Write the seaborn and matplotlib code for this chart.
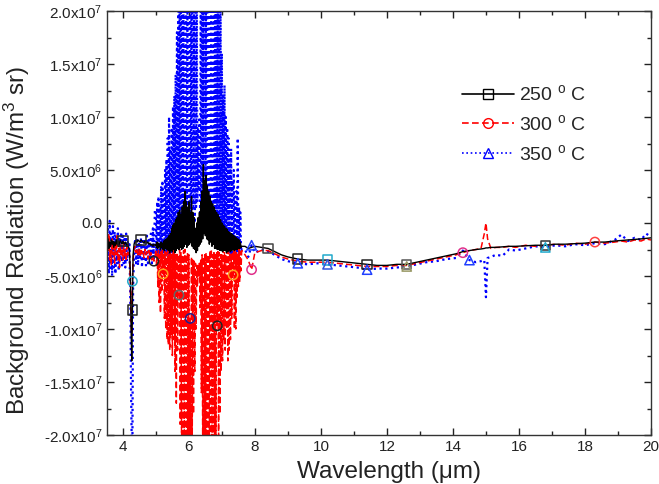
import numpy as np
import pandas as pd
import matplotlib
matplotlib.use("Agg")
import matplotlib.pyplot as plt
import seaborn as sns
from matplotlib.lines import Line2D
from matplotlib.ticker import MultipleLocator, FixedLocator

# ---------------- data (radiation values in units of 1e6 W/m^3 sr) ----------------
wl_lead = [3.550, 3.575, 3.600, 3.625, 3.650, 3.675, 3.700, 3.725, 3.750, 3.775,
           3.800, 3.825, 3.850, 3.875, 3.900, 3.925, 3.950, 3.975, 4.000, 4.025,
           4.050, 4.075, 4.100, 4.125, 4.150, 4.175, 4.200]
wl_dip = [4.23, 4.25, 4.27, 4.29, 4.31, 4.34]
wl_pre = [4.37, 4.40, 4.43, 4.46, 4.49, 4.52, 4.55, 4.58, 4.61, 4.64,
          4.67, 4.70, 4.73, 4.76, 4.79, 4.82, 4.85, 4.88, 4.91, 4.94, 4.97]
wl_osc = [5.00, 5.02, 5.04, 5.06, 5.08, 5.10, 5.12, 5.14, 5.16, 5.18,
          5.20, 5.22, 5.24, 5.26, 5.28, 5.30, 5.32, 5.34, 5.36, 5.38,
          5.40, 5.42, 5.44, 5.46, 5.48, 5.50, 5.52, 5.54, 5.56, 5.58,
          5.60, 5.62, 5.64, 5.66, 5.68, 5.70, 5.72, 5.74, 5.76, 5.78,
          5.80, 5.82, 5.84, 5.86, 5.88, 5.90, 5.92, 5.94, 5.96, 5.98,
          6.00, 6.02, 6.04, 6.06, 6.08, 6.10, 6.12, 6.14, 6.16, 6.18,
          6.20, 6.22, 6.24, 6.26, 6.28, 6.30, 6.32, 6.34, 6.36, 6.38,
          6.40, 6.42, 6.44, 6.46, 6.48, 6.50, 6.52, 6.54, 6.56, 6.58,
          6.60, 6.62, 6.64, 6.66, 6.68, 6.70, 6.72, 6.74, 6.76, 6.78,
          6.80, 6.82, 6.84, 6.86, 6.88, 6.90, 6.92, 6.94, 6.96, 6.98,
          7.00, 7.02, 7.04, 7.06, 7.08, 7.10, 7.12, 7.14, 7.16, 7.18,
          7.20, 7.22, 7.24, 7.26, 7.28, 7.30, 7.32, 7.34, 7.36, 7.38,
          7.40, 7.42, 7.44, 7.46, 7.48, 7.50, 7.52, 7.54, 7.56, 7.58,
          7.60]
wl_tail = [7.70, 7.80, 7.90, 8.00, 8.20, 8.40, 8.60, 8.80, 9.00, 9.30,
           9.60, 9.90, 10.20, 10.50, 10.80, 11.10, 11.40, 11.70, 12.00, 12.30,
           12.60, 12.90, 13.20, 13.50, 13.80, 14.10, 14.30, 14.50, 14.70, 14.85,
           14.95, 15.00, 15.05, 15.15, 15.30, 15.50, 15.70, 15.90, 16.20, 16.50,
           16.80, 17.10, 17.40, 17.70, 18.00, 18.30, 18.60, 18.90, 19.10, 19.30,
           19.50, 19.70, 19.85, 20.00]

# 250 C
r250_lead = [-1.5, -2.4, -1.8, -2.2, -1.6, -2.0, -1.7, -2.3, -1.8, -2.1,
             -1.6, -2.0, -1.7, -2.2, -1.8, -1.6, -1.9, -2.0, -1.7, -1.9,
             -2.0, -1.8, -1.9, -2.2, -2.0, -2.3, -2.5]
r250_dip = [-5.0, -10.0, -13.0, -8.2, -3.0, -2.0]
r250_pre = [-1.8, -1.7, -1.8, -1.6, -1.7, -1.8, -1.6, -1.7, -1.8, -1.9,
            -1.7, -1.8, -1.9, -1.8, -2.0, -1.9, -2.1, -2.0, -2.2, -2.0, -2.1]
r250_osc = [-2.0, -2.3, -1.8, -2.4, -1.9, -2.2, -2.0, -2.5, -1.8, -2.3,
            -1.9, -2.5, -1.7, -2.6, -1.6, -2.4, -1.5, -2.5, -1.4, -2.6,
            -1.2, -2.8, -1.0, -2.6, -0.5, -2.7, -0.2, -2.5, 0.0, -2.8,
            0.3, -2.6, 0.5, -2.4, 1.0, -2.5, 1.2, -2.3, 0.8, -2.5,
            1.5, -2.4, 2.0, -2.2, 3.0, -2.0, 2.0, -2.3, 1.5, -2.1,
            2.0, -2.0, 1.0, -1.8, 2.5, -2.2, 1.0, -2.4, 0.5, -2.5,
            -0.5, -2.8, 0.0, -2.6, 0.5, -2.2, 1.0, -2.0, 2.0, -1.8,
            3.0, -1.5, 5.5, -1.0, 4.0, -1.2, 4.5, -1.5, 3.5, -1.6,
            3.0, -2.0, 2.5, -1.8, 2.0, -2.2, 1.8, -2.0, 1.5, -2.4,
            1.2, -2.4, 1.0, -2.5, 0.8, -2.5, 0.5, -2.6, 0.3, -2.6,
            0.0, -2.7, -0.2, -2.6, -0.3, -2.6, -0.5, -2.8, -0.6, -2.7,
            -0.8, -2.6, -0.9, -2.7, -1.0, -2.6, -1.1, -2.5, -1.2, -2.6,
            -1.3, -2.5, -1.4, -2.5, -1.5, -2.4, -1.6, -2.4, -1.8, -2.3,
            -2.2]
r250_tail = [-2.2, -2.4, -2.3, -2.2, -2.3, -2.4, -2.7, -3.0, -3.2, -3.4,
             -3.5, -3.5, -3.5, -3.6, -3.7, -3.8, -3.9, -4.0, -4.0, -3.9,
             -3.9, -3.7, -3.5, -3.3, -3.1, -2.9, -2.7, -2.6, -2.5, -2.45,
             -2.4, -2.35, -2.35, -2.3, -2.3, -2.25, -2.2, -2.2, -2.15, -2.1,
             -2.1, -2.0, -2.0, -1.95, -1.9, -1.8, -1.8, -1.7, -1.65, -1.6,
             -1.55, -1.5, -1.45, -1.4]

# 300 C
r300_lead = [-2.5, -1.0, -3.5, -2.0, -4.0, -1.5, -3.0, -2.2, -3.8, -2.0,
             -3.0, -1.2, -3.5, -2.4, -4.2, -2.0, -3.0, -2.4, -3.5, -1.8,
             -3.2, -2.5, -3.6, -2.2, -3.0, -2.6, -3.0]
r300_dip = [-6.0, -9.5, -10.5, -5.5, -3.5, -2.5]
r300_pre = [-2.2, -2.8, -2.4, -3.0, -2.5, -3.2, -2.4, -2.9, -2.6, -3.3,
            -2.5, -3.0, -2.7, -3.4, -2.6, -3.2, -2.8, -3.5, -3.0, -3.6, -3.4]
r300_osc = [-2.5, -4.0, -2.8, -6.0, -2.6, -7.5, -3.0, -8.5, -2.7, -6.5,
            -2.5, -4.8, -3.0, -9.0, -2.7, -10.0, -2.8, -11.0, -2.6, -11.5,
            -3.0, -12.0, -2.8, -10.5, -3.0, -12.5, -2.6, -11.0, -2.5, -14.0,
            -3.0, -17.0, -2.8, -12.0, -3.0, -6.8, -2.5, -19.0, -2.8, -21.0,
            -3.0, -22.0, -2.6, -22.0, -2.5, -22.0, -3.0, -22.0, -2.8, -22.0,
            -3.0, -22.0, -9.0, -22.0, -3.2, -22.0, -3.5, -18.0, -3.6, -14.0,
            -3.8, -10.0, -4.0, -6.0, -4.0, -5.0, -3.8, -8.0, -3.5, -16.0,
            -3.0, -22.0, -3.2, -22.0, -3.0, -22.0, -2.8, -22.0, -3.0, -22.0,
            -3.0, -21.0, -2.6, -22.0, -2.5, -22.0, -3.0, -22.0, -2.8, -21.0,
            -3.0, -20.0, -2.8, -9.7, -2.7, -21.0, -2.8, -18.0, -3.0, -14.0,
            -3.0, -13.0, -2.5, -11.0, -2.8, -12.0, -3.0, -10.0, -2.6, -13.0,
            -2.6, -12.0, -2.8, -11.0, -3.0, -9.0, -2.7, -4.9, -2.5, -10.0,
            -2.5, -10.0, -2.8, -7.0, -3.0, -6.0, -2.5, -5.5, -2.7, -4.5,
            -2.6]
r300_tail = [-3.0, -3.5, -4.4, -2.8, -2.6, -2.6, -2.9, -3.2, -3.4, -3.6,
             -3.7, -3.7, -3.7, -3.8, -3.9, -4.0, -4.1, -4.1, -4.1, -4.0,
             -4.0, -3.8, -3.6, -3.4, -3.2, -3.0, -2.8, -2.6, -2.5, -2.4,
             -1.0, 0.0, -1.5, -2.4, -2.3, -2.3, -2.2, -2.3, -2.1, -2.2,
             -2.1, -2.0, -2.1, -1.9, -2.0, -1.8, -1.9, -1.8, -1.7, -1.8,
             -1.6, -1.7, -1.5, -1.6]

# 350 C
r350_lead = [-0.5, -4.8, 0.2, -4.5, -1.0, -5.0, -0.3, -4.2, -0.8, -4.8,
             -1.2, -3.8, -0.5, -4.5, -1.5, -3.5, -0.9, -4.0, -1.2, -3.8,
             -1.5, -4.2, -1.0, -3.6, -1.8, -3.2, -2.0]
r350_dip = [-8.0, -16.0, -21.0, -21.0, -6.0, -3.0]
r350_pre = [-1.5, -3.8, -1.6, -4.0, -1.8, -3.5, -1.4, -4.2, -1.7, -3.6,
            -1.5, -4.0, -1.2, -3.8, -1.6, -3.5, -1.0, -3.8, -0.5, -3.5, 1.2]
r350_osc = [1.2, -3.0, 2.0, -3.2, 2.5, -3.5, 1.5, -3.0, 3.5, -3.3,
            4.0, -3.0, 3.0, -3.2, 5.0, -2.8, 6.0, -3.0, 8.0, -2.8,
            10.0, -3.0, 7.0, -2.6, 9.0, -2.8, 11.0, -2.5, 12.0, -2.4,
            14.0, -2.5, 18.0, -2.2, 20.0, -2.0, 22.0, -2.2, 24.0, -1.8,
            24.0, -1.5, 24.0, -0.5, 24.0, -1.0, 24.0, 0.5, 24.0, -0.5,
            24.0, -1.0, 24.0, 1.0, 24.0, 0.0, 24.0, 1.5, 24.0, 0.0,
            24.0, 1.5, 20.0, 2.0, 9.0, 3.0, 10.0, 1.0, 20.0, 0.5,
            24.0, 1.0, 24.0, 0.0, 24.0, 1.0, 24.0, 0.0, 24.0, -0.5,
            24.0, -0.5, 24.0, -1.0, 24.0, -0.5, 24.0, -1.0, 24.0, -1.5,
            24.0, -1.5, 24.0, -2.0, 24.0, -1.8, 24.0, -2.0, 22.0, -2.0,
            16.0, -2.5, 12.0, -2.2, 13.0, -2.5, 10.0, -2.6, 9.0, -2.8,
            8.0, -2.8, 6.0, -3.0, 7.0, -2.9, 4.0, -3.0, 5.0, -3.0,
            2.5, -3.0, 3.0, -3.1, 8.0, -2.8, 1.5, -3.0, 1.0, -2.7,
            -2.5]
r350_tail = [-2.5, -3.2, -2.1, -2.8, -2.5, -2.7, -3.0, -3.4, -3.6, -3.8,
             -3.9, -3.8, -3.9, -4.0, -4.1, -4.2, -4.4, -4.3, -4.3, -4.2,
             -4.1, -3.9, -3.7, -3.6, -3.4, -3.3, -2.6, -3.5, -3.7, -3.6,
             -3.5, -7.0, -3.3, -3.2, -3.0, -3.1, -2.5, -2.6, -2.4, -2.2,
             -2.3, -2.1, -2.2, -2.0, -2.1, -1.9, -2.0, -1.6, -1.1, -1.7,
             -1.4, -1.6, -1.0, -1.3]

series_labels = ["250 $^{o}$ C", "300 $^{o}$ C", "350 $^{o}$ C"]

# marker positions (wavelengths of sampled points) and their edge colours
mk250_x = [4.00, 4.29, 4.55, 8.40, 9.30, 10.20, 11.40, 12.60, 16.80]
mk300_x = [4.29, 4.94, 5.22, 5.70, 6.04, 6.86, 7.34, 7.90, 14.30, 18.30]
mk350_x = [7.90, 9.30, 10.20, 11.40, 12.60, 14.50, 16.80]
mk250_c = ["#222222", "#222222", "#222222", "#444444", "#222222", "#22aacc", "#222222", "#555555", "#333333"]
mk300_c = ["#22aacc", "#222222", "#ffa020", "#666666", "#202090", "#222222", "#ffa020", "#e0308a", "#e0308a", "#ff4040"]
mk350_c = ["#2040ff", "#2040ff", "#3355dd", "#2040ff", "#999966", "#2040ff", "#22aacc"]

xtick_vals = [4, 6, 8, 10, 12, 14, 16, 18, 20]
xtick_labels = ["4", "6", "8", "10", "12", "14", "16", "18", "20"]
ytick_vals = [-2e7, -1.5e7, -1e7, -5e6, 0, 5e6, 1e7, 1.5e7, 2e7]
ytick_labels = ["-2.0x10$^{7}$", "-1.5x10$^{7}$", "-1.0x10$^{7}$", "-5.0x10$^{6}$", "0.0",
                "5.0x10$^{6}$", "1.0x10$^{7}$", "1.5x10$^{7}$", "2.0x10$^{7}$"]

# ---------------- style ----------------
sns.set_theme(style="ticks")
plt.rcParams["font.family"] = ["Liberation Sans", "DejaVu Sans"]
plt.rcParams["mathtext.fontset"] = "custom"
plt.rcParams["mathtext.rm"] = "Liberation Sans"
plt.rcParams["mathtext.it"] = "Liberation Sans"
plt.rcParams["mathtext.default"] = "regular"

wl = np.array(wl_lead + wl_dip + wl_pre + wl_osc + wl_tail)
vals = {
    series_labels[0]: np.array(r250_lead + r250_dip + r250_pre + r250_osc + r250_tail) * 1e6,
    series_labels[1]: np.array(r300_lead + r300_dip + r300_pre + r300_osc + r300_tail) * 1e6,
    series_labels[2]: np.array(r350_lead + r350_dip + r350_pre + r350_osc + r350_tail) * 1e6,
}
df = pd.concat([pd.DataFrame({"wl": wl, "rad": v, "series": k}) for k, v in vals.items()],
               ignore_index=True)

colors = {series_labels[0]: "#000000", series_labels[1]: "#ff0000", series_labels[2]: "#0000ff"}
lstyles = {series_labels[0]: "-", series_labels[1]: (0, (4, 2)), series_labels[2]: (0, (1, 1.6))}
lwidths = {series_labels[0]: 1.0, series_labels[1]: 1.1, series_labels[2]: 1.6}
mshape = {series_labels[0]: "s", series_labels[1]: "o", series_labels[2]: "^"}

fig = plt.figure(figsize=(6.59, 4.84), dpi=100)
ax = fig.add_axes([107 / 659, 49 / 484, 544 / 659, 424 / 484])

for lab in [series_labels[2], series_labels[1], series_labels[0]]:
    sub = df[df["series"] == lab]
    sns.lineplot(data=sub, x="wl", y="rad", color=colors[lab], linestyle=lstyles[lab],
                 linewidth=lwidths[lab], sort=False, estimator=None, ax=ax, legend=False)

for lab, mx, mc in [(series_labels[0], mk250_x, mk250_c),
                    (series_labels[1], mk300_x, mk300_c),
                    (series_labels[2], mk350_x, mk350_c)]:
    idx = [int(np.argmin(np.abs(wl - x))) for x in mx]
    ax.scatter(wl[idx], vals[lab][idx], marker=mshape[lab], s=45, facecolors="none",
               edgecolors=mc, linewidths=1.1, zorder=5, clip_on=True)

ax.set_xlim(3.52, 20)
ax.set_ylim(-2e7, 2e7)
ax.xaxis.set_major_locator(FixedLocator(xtick_vals))
ax.set_xticklabels(xtick_labels)
ax.xaxis.set_minor_locator(MultipleLocator(1))
ax.yaxis.set_major_locator(FixedLocator(ytick_vals))
ax.set_yticklabels(ytick_labels)
ax.yaxis.set_minor_locator(MultipleLocator(2.5e6))
ax.tick_params(which="both", direction="in", top=True, right=True, colors="#222222",
               labelcolor="#222222", labelsize=11)
ax.tick_params(which="major", length=5, width=1)
ax.tick_params(which="minor", length=3, width=1)
for s in ax.spines.values():
    s.set_linewidth(1.0)
    s.set_color("#333333")

ax.set_xlabel("Wavelength (μm)", fontsize=17.5, color="#222222")
ax.xaxis.set_label_coords(0.518, -0.1014, transform=ax.transAxes)
ax.xaxis.label.set_va("baseline")
ax.set_ylabel("Background Radiation (W/m$^{3}$ sr)", fontsize=17.5, color="#222222")
ax.yaxis.set_label_coords(-0.138, 0.458, transform=ax.transAxes)

handles = [Line2D([], [], color=colors[l], linestyle=lstyles[l], linewidth=1.2, marker=mshape[l],
                  markersize=7, markerfacecolor="none", markeredgecolor=colors[l])
           for l in series_labels]
ax.legend(handles, series_labels, loc="upper left", bbox_to_anchor=(0.6345, 0.85), frameon=False,
          fontsize=14, handlelength=2.7, handletextpad=0.25, labelspacing=0.5, borderpad=0)

fig.savefig("out.png", dpi=100)
